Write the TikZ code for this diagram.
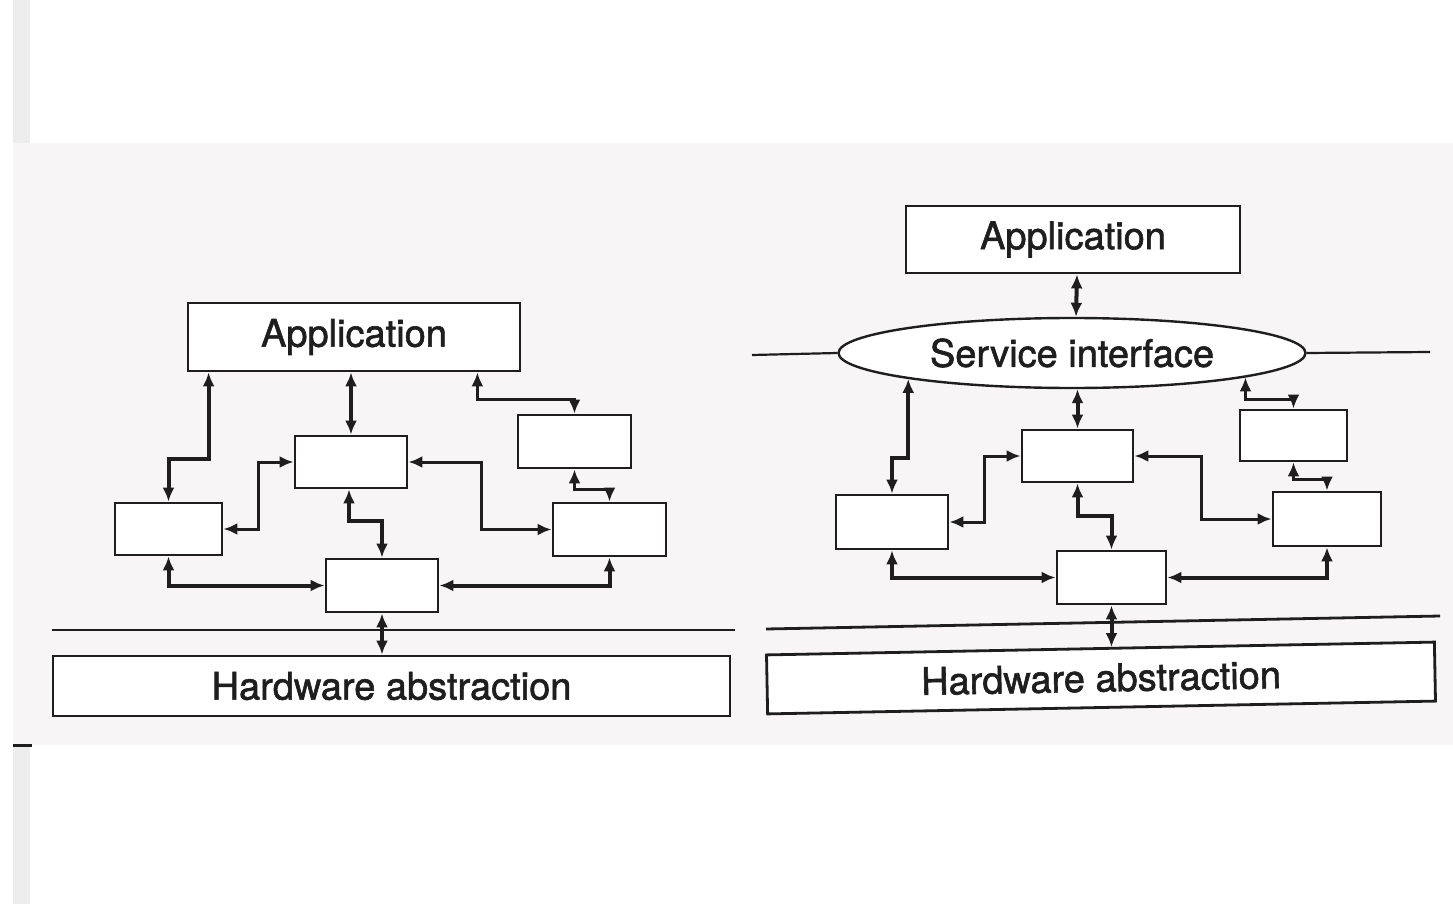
\documentclass[tikz,border=0pt]{standalone}
\usepackage{fontspec}
\setmainfont{TeX Gyre Heros}
\newfontfamily\inkfont{TeX Gyre Heros}[FakeBold=1.5]
\usetikzlibrary{arrows.meta,shapes.geometric,calc}
\definecolor{ink}{HTML}{1E1E1E}
\definecolor{paper}{HTML}{F7F5F5}
\definecolor{edge}{HTML}{EDEDED}
\tikzset{
  box/.style={draw=ink, line width=2.8pt, fill=white, inner sep=0pt},
  label/.style={font=\inkfont\fontsize{38}{40}\selectfont, text=ink},
  tipped/.style={{Latex[length=14pt,width=12pt]}-{Latex[length=14pt,width=12pt]}},
  conn/.style={draw=ink, line width=4pt, tipped},
  connthin/.style={draw=ink, line width=3pt, tipped},
  rule/.style={draw=ink, line width=2.8pt}
}
\begin{document}
\begin{tikzpicture}[x=1pt,y=-1pt]
\useasboundingbox (0,0) rectangle (1453,904);
% page background and scanned sheet
\fill[white] (0,0) rectangle (1453,904);
\fill[edge] (13,0) rectangle (30,904);
\fill[paper] (13,143) rectangle (1453,745);
\fill[ink] (13,744) rectangle (32,747);

% ---------------- left: monolithic structure ----------------
\node[box, label, minimum width=332pt, minimum height=68pt] (lApp) at (354,337) {Application};
\node[box, minimum width=107pt, minimum height=52pt] (lA) at (168.5,529) {};
\node[box, minimum width=112pt, minimum height=52pt] (lB) at (351,462) {};
\node[box, minimum width=113pt, minimum height=53pt] (lC) at (574.5,441.5) {};
\node[box, minimum width=113pt, minimum height=53pt] (lD) at (609.5,529.5) {};
\node[box, minimum width=112pt, minimum height=53pt] (lE) at (382,585.5) {};
\node[box, label, minimum width=677pt, minimum height=60pt] (lHW) at (391.5,686) {Hardware abstraction};
\coordinate (lRuleW) at (52,630);
\coordinate (lRuleE) at (735,630);
\draw[rule] (lRuleW) -- (lRuleE);

\draw[conn] ([xshift=22pt]lApp.south west) -- ++(0,87) -| (lA.north);
\draw[conn] (lApp.south -| lB.north) -- (lB.north);
\draw[connthin] ([xshift=-44pt]lApp.south east) -- ++(0,27) -| (lC.north);
\draw[connthin] (lA.east) -- ++(35,0) |- (lB.west);
\draw[connthin] (lB.east) -- ++(73,0) |- (lD.west);
\draw[conn] ([xshift=-2pt]lB.south) -- ++(0,32) -| (lE.north);
\draw[connthin] (lC.south) -- ++(0,20) -| (lD.north);
\draw[conn] (lA.south) |- (lE.west);
\draw[conn] (lD.south) |- (lE.east);
\draw[conn] (lE.south) -- (lE.south |- lHW.north);

% ---------------- right: layered structure ----------------
\node[box, label, minimum width=334pt, minimum height=67pt] (rApp) at (1073,239.5) {Application};
\node[draw=ink, line width=2.4pt, fill=white, ellipse, inner sep=0pt,
      minimum width=467pt, minimum height=70pt, label] (rSI) at (1072,353) {Service interface};
\coordinate (rSIW) at (752,355);
\coordinate (rSIE) at (1430,352);
\draw[ink, line width=2.2pt] (rSIW) -- (rSI.west);
\draw[ink, line width=2.2pt] (rSI.east) -- (rSIE);
\node[box, minimum width=112pt, minimum height=54pt] (rA) at (892,522) {};
\node[box, minimum width=111pt, minimum height=52pt] (rB) at (1077.5,456) {};
\node[box, minimum width=107pt, minimum height=51pt] (rC) at (1293.5,435.5) {};
\node[box, minimum width=108pt, minimum height=54pt] (rD) at (1327,519) {};
\node[box, minimum width=109pt, minimum height=53pt] (rE) at (1111.5,577.5) {};
\node[box, label, rotate=1.1, minimum width=668pt, minimum height=59pt] (rHW) at (1101,678) {Hardware abstraction};
\coordinate (rRuleW) at (766,629);
\coordinate (rRuleE) at (1440,616);
\draw[rule] (rRuleW) -- (rRuleE);

\draw[conn] ([xshift=4pt]rApp.south) -- ([xshift=4pt]rSI.north);
\draw[conn] (rSI.189) -- ++(0,79) -| (rA.north);
\draw[conn] (rB.north |- rSI.south) -- (rB.north);
\draw[connthin] (rSI.-8) -- ++(0,22) -| (rC.north);
\draw[connthin] (rA.east) -- ++(35,0) |- (rB.west);
\draw[connthin] (rB.east) -- ++(67,0) |- (rD.west);
\draw[conn] (rB.south) -- ++(0,33) -| (rE.north);
\draw[connthin] (rC.south) -- ++(0,17) -| (rD.north);
\draw[conn] (rA.south) |- (rE.west);
\draw[conn] (rD.south) |- (rE.east);
\draw[conn] (rE.south) -- (rE.south |- rHW.north);
\end{tikzpicture}
\end{document}
